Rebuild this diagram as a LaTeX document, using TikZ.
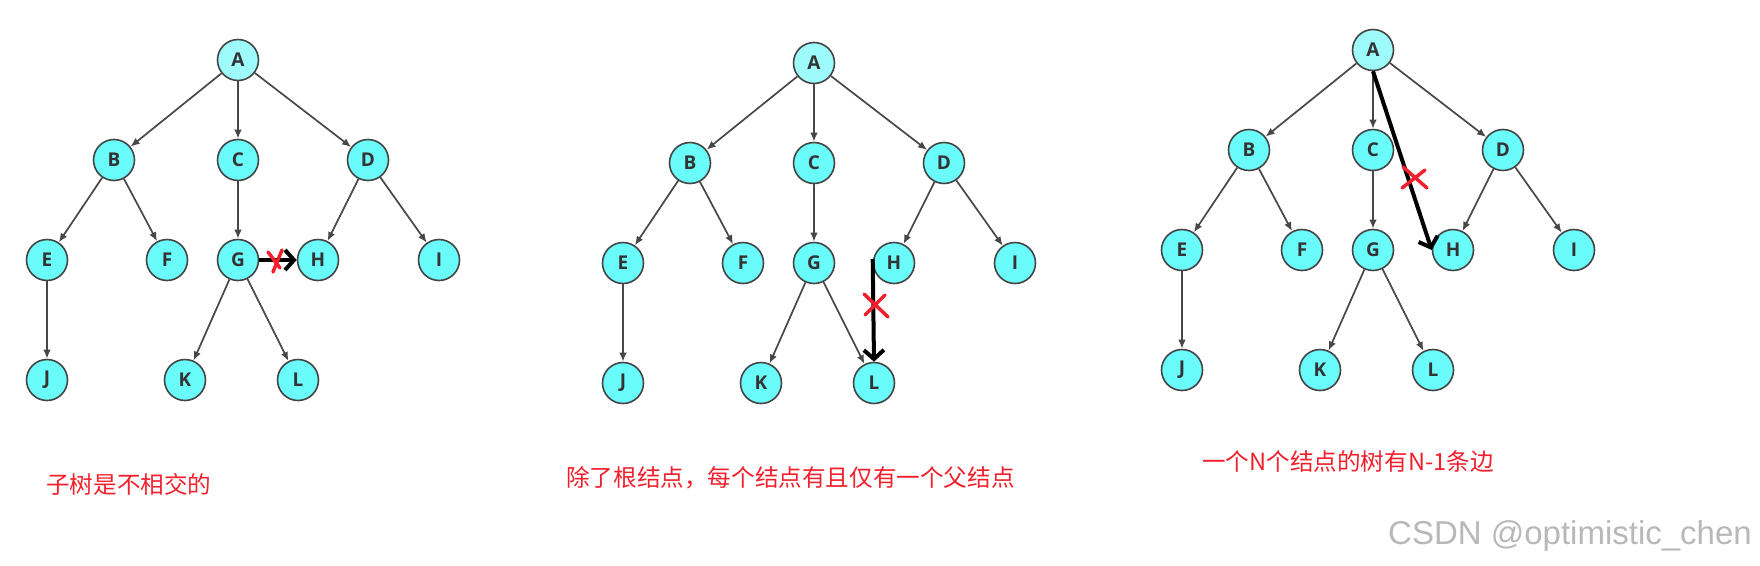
\documentclass[tikz,border=0pt]{standalone}
\usepackage{fontspec}
\setmainfont{Open Sans}
\newfontfamily\cjk{Noto Sans CJK SC}
\newfontfamily\markfont{Liberation Sans}
\usetikzlibrary{arrows.meta}
\definecolor{nodecyan}{HTML}{6AFBFB}
\definecolor{rootcyan}{HTML}{9EFBFB}
\definecolor{rimgray}{HTML}{444444}
\definecolor{notered}{HTML}{F2202C}
\colorlet{edgegray}{black!72}

\begin{document}
\begin{tikzpicture}[x=1pt, y=-1pt,
    vert/.style={circle, draw=rimgray, line width=1.6pt, fill=nodecyan,
                 minimum size=41pt, inner sep=0pt,
                 font=\bfseries\fontsize{19}{19}\selectfont, text=black!80},
    root/.style={vert, fill=rootcyan},
    edge/.style={-{Latex[length=9pt,width=7.5pt]}, draw=edgegray, line width=1.7pt},
    bad/.style={-{Straight Barb[length=9pt,width=20pt]}, draw=black, line width=4pt},
    cross/.style={draw=notered, line width=3.5pt, line cap=round},
    note/.style={anchor=west, inner sep=0pt, text=notered,
                 font=\cjk\fontsize{23.6}{28}\selectfont},
  ]
  \useasboundingbox (0,0) rectangle (1760,565);

  \foreach \t/\dx/\dy in {1/0/0, 2/576/3, 3/1135/-10} {
    \begin{scope}[shift={(\dx,\dy)}]
      \node[root] (t\t-A) at (238,60) {A};
      \node[vert] (t\t-B) at (114,160) {B};
      \node[vert] (t\t-C) at (238,160) {C};
      \node[vert] (t\t-D) at (368,160) {D};
      \node[vert] (t\t-E) at (47,260) {E};
      \node[vert] (t\t-F) at (167,260) {F};
      \node[vert] (t\t-G) at (238,260) {G};
      \node[vert] (t\t-H) at (318,260) {H};
      \node[vert] (t\t-I) at (439,260) {I};
      \node[vert] (t\t-J) at (47,380) {J};
      \node[vert] (t\t-K) at (185,380) {K};
      \node[vert] (t\t-L) at (298,380) {L};
    \end{scope}
    \foreach \p/\c in {A/B, A/C, A/D, B/E, B/F, C/G, D/H, D/I, E/J, G/K, G/L}
      \draw[edge] (t\t-\p) -- (t\t-\c);
  }

  \draw[bad] (t1-G) -- (t1-H);
  \draw[bad] ([yshift=4pt]t2-H.west) -- (t2-L.north);
  \draw[bad] (t3-A.south) -- (t3-H.west);

  \coordinate (x1) at (275,261);
  \coordinate (x2) at (875,305);
  \coordinate (x3) at (1415,179);
  \draw[cross, shift={(x1)}] (-7,-9) -- (5,7) (7,-11) -- (-2,11);
  \draw[cross, shift={(x2)}] (-11,-11) -- (13,12) (10,-10) -- (-10,10);
  \draw[cross, shift={(x3)}] (-12,-12) -- (12,9) (10,-9) -- (-13,9);

  \node[note] (rule1) at (46,484) {子树是不相交的};
  \node[note] (rule2) at (566,478) {除了根结点，每个结点有且仅有一个父结点};
  \node[note] (rule3) at (1202,461) {一个N个结点的树有N-1条边};

  \node[anchor=west, inner sep=0pt, text=black!28,
        font=\markfont\fontsize{33}{33}\selectfont] (credit) at (1388,536)
    {CSDN @optimistic\_chen};
\end{tikzpicture}
\end{document}
